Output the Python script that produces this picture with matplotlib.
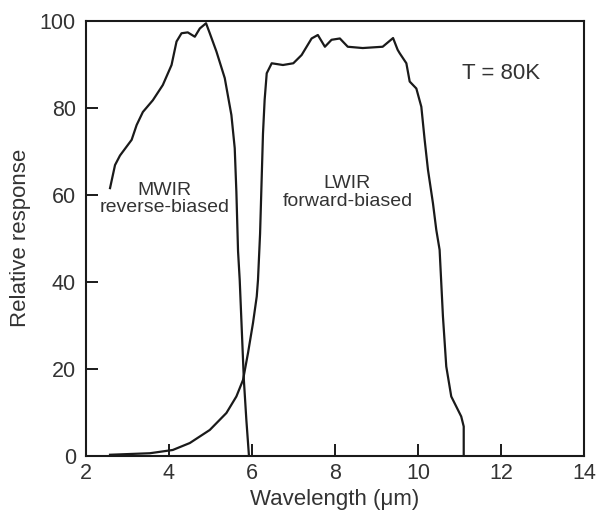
import matplotlib
matplotlib.use('Agg')
import matplotlib.pyplot as plt

plt.rcParams['font.family'] = ['Liberation Sans', 'DejaVu Sans']

# MWIR (reverse-biased) response
mwir_x = [2.59, 2.71, 2.83, 3.11, 3.23, 3.38, 3.62, 3.86, 4.07, 4.19, 4.31, 4.46,
          4.63, 4.75, 4.90, 4.99, 5.15, 5.35, 5.51, 5.59, 5.63, 5.67, 5.71, 5.81,
          5.87, 5.93]
mwir_y = [61.5, 66.8, 69, 72.6, 76, 79, 81.7, 85.2, 89.8, 95.2, 97.1, 97.3,
          96.3, 98.2, 99.4, 97.1, 92.9, 86.8, 78.3, 70.7, 60.6, 47, 40.4, 17.4,
          8.2, 0.3]

# LWIR (forward-biased) response
lwir_x = [2.59, 3.55, 4.10, 4.51, 4.99, 5.39, 5.63, 5.79, 5.91, 6.03, 6.12, 6.15,
          6.20, 6.27, 6.31, 6.36, 6.48, 6.75, 7.00, 7.20, 7.44, 7.59, 7.76, 7.92,
          8.12, 8.31, 8.67, 9.15, 9.40, 9.51, 9.56, 9.72, 9.80, 9.96, 10.08,
          10.16, 10.24, 10.36, 10.44, 10.52, 10.60, 10.68, 10.80, 11.04, 11.10,
          11.10]
lwir_y = [0.2, 0.55, 1.3, 2.9, 5.9, 9.8, 13.6, 17.4, 23.6, 30.5, 36.6, 40.4,
          51, 74, 81.8, 87.9, 90.2, 89.8, 90.2, 92.1, 95.9, 96.7, 94, 95.6,
          95.9, 94, 93.7, 94, 96, 93.3, 92.5, 90.2, 86, 84.4, 80.2,
          72.6, 65.7, 58, 51.9, 47.3, 32, 20.5, 13.6, 9, 6.7,
          0.3]

x_ticks = [2, 4, 6, 8, 10, 12, 14]
y_ticks = [0, 20, 40, 60, 80, 100]

line_c = '#1a1a1a'
text_c = '#333333'

fig = plt.figure(figsize=(5.98, 5.16), dpi=100)
ax = fig.add_axes([0.143, 0.117, 0.834, 0.843])

ax.plot(mwir_x, mwir_y, color=line_c, lw=1.6, solid_joinstyle='round')
ax.plot(lwir_x, lwir_y, color=line_c, lw=1.6, solid_joinstyle='round')

ax.set_xlim(2, 14)
ax.set_ylim(0, 100)
ax.set_xticks(x_ticks)
ax.set_yticks(y_ticks)
ax.tick_params(direction='in', length=8.5, width=1.4, color=line_c,
               labelsize=15.5, labelcolor=text_c)
ax.tick_params(axis='y', pad=7)
ax.tick_params(axis='x', pad=5)
for s in ax.spines.values():
    s.set_linewidth(1.5)
    s.set_color(line_c)

ax.set_xlabel('Wavelength (\u03bcm)', fontsize=16, color=text_c, labelpad=4)
ax.set_ylabel('Relative response', fontsize=16, color=text_c, labelpad=6)

ax.text(3.9, 59, 'MWIR\nreverse-biased', ha='center', va='center',
        fontsize=14, color=text_c, linespacing=1.05)
ax.text(8.3, 60.5, 'LWIR\nforward-biased', ha='center', va='center',
        fontsize=14, color=text_c, linespacing=1.05)
ax.text(12.0, 87.8, 'T = 80K', ha='center', va='center',
        fontsize=16, color=text_c)

fig.savefig('out.png', dpi=100)
